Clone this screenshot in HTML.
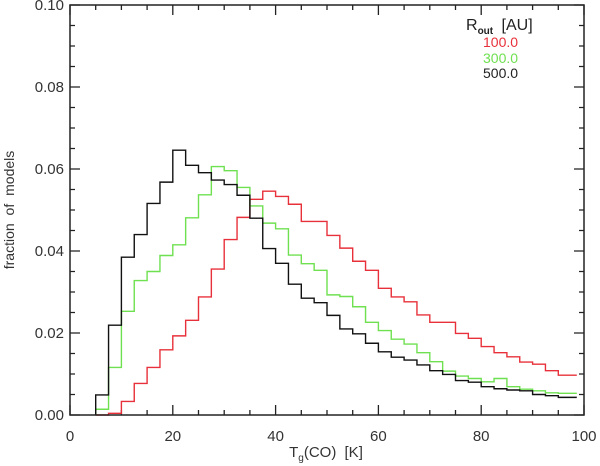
<!DOCTYPE html>
<html><head><meta charset="utf-8"><style>
body{margin:0;background:#fff}
svg{display:block;font-family:"Liberation Sans",sans-serif}
text{white-space:pre}
</style></head><body>
<svg id="chart" width="600" height="466" viewBox="0 0 600 466">
<g id="ticks"></g>
<g id="series"></g>
<rect x="70" y="5" width="514" height="410" fill="none" stroke="#222" stroke-width="1.5"/>
<g id="labels" font-size="15" fill="#333"></g>
<text x="14" y="210" font-size="14" fill="#333" text-anchor="middle" word-spacing="4" transform="rotate(-90 14 210)">fraction of models</text>
<text x="326" y="457" font-size="15" fill="#333" text-anchor="middle" word-spacing="4">T<tspan font-size="10" dy="4">g</tspan><tspan dy="-4">(CO) [K]</tspan></text>
<g>
<text x="466" y="30" font-size="16" fill="#222" word-spacing="4">R<tspan font-size="10" font-weight="bold" dy="4">out</tspan><tspan dy="-4"> [AU]</tspan></text>
<text x="483" y="47" font-size="14" fill="#e8303a">100.0</text>
<text x="483" y="63" font-size="14" fill="#6fe050">300.0</text>
<text x="483" y="78" font-size="14" fill="#222">500.0</text>
</g>
</svg>
<script>
const binStart = 5, binWidth = 2.5, lastEdge = 98.6;
const red = [0,0.0004,0.0033,0.0077,0.0116,0.0159,0.0193,0.0231,0.0288,0.0356,0.0428,0.0482,0.0526,0.0546,
 0.0533,0.0514,0.0472,0.0472,0.0438,0.0407,0.0375,0.0353,0.0309,0.0288,0.0276,0.0244,0.0226,0.0226,0.0199,0.0187,0.0167,0.0152,0.0142,0.0129,0.0124,0.0108,0.0097];
const green = [0.0014,0.0116,0.0253,0.0328,0.035,0.0389,0.0415,0.0481,0.0537,0.0606,0.0596,0.0555,0.051,0.0468,
 0.0454,0.039,0.0369,0.0353,0.0293,0.0289,0.0264,0.0226,0.0206,0.0185,0.0173,0.0152,0.013,0.0107,0.0095,0.0089,0.0081,0.0089,0.0069,0.0063,0.0059,0.0054,0.0053];
const black = [0.0049,0.0219,0.0385,0.044,0.0516,0.0568,0.0646,0.0609,0.0591,0.0573,0.0562,0.0536,0.048,0.0406,
 0.037,0.0319,0.0285,0.0274,0.0243,0.021,0.0198,0.0175,0.0154,0.0141,0.0134,0.0122,0.0108,0.0099,0.0084,0.008,0.0069,0.0064,0.0061,0.0059,0.005,0.0047,0.0043];
const xTickLabels = ["0","20","40","60","80","100"];
const yTickLabels = ["0.00","0.02","0.04","0.06","0.08","0.10"];

const X0=70,X1=584,Y0=415,Y1=5;
const xs=v=>X0+(v/100)*(X1-X0);
const ys=v=>Y0-(v/0.10)*(Y0-Y1);
const NS="http://www.w3.org/2000/svg";
function mk(tag,parent){const e=document.createElementNS(NS,tag);parent.appendChild(e);return e;}

const tg=document.getElementById('ticks');
let td="";
for(let v=0;v<=100;v+=5){const L=(v%20===0)?10:5;const x=xs(v);td+=`M${x} ${Y0}V${Y0-L}M${x} ${Y1}V${Y1+L}`;}
for(let i=0;i<=20;i++){const v=i*0.005;const L=(i%4===0)?10:5;const y=ys(v);td+=`M${X0} ${y}H${X0+L}M${X1} ${y}H${X1-L}`;}
const tp=mk('path',tg);tp.setAttribute('d',td);tp.setAttribute('stroke','#222');tp.setAttribute('stroke-width','1.3');



const lg=document.getElementById('labels');
xTickLabels.forEach((t,i)=>{const e=mk('text',lg);e.setAttribute('x',xs(i*20));e.setAttribute('y',441);e.setAttribute('text-anchor','middle');e.textContent=t;

});
yTickLabels.forEach((t,i)=>{const e=mk('text',lg);e.setAttribute('x',64);e.setAttribute('y',ys(i*0.02)+5);e.setAttribute('text-anchor','end');e.textContent=t;

});

const sg=document.getElementById('series');
function hist(vals,color,name){
  let d=`M${xs(binStart)} ${ys(0)}`;
  vals.forEach((v,i)=>{const a=binStart+i*binWidth;
    const bb=(i===vals.length-1)?lastEdge:a+binWidth;
    d+=`V${ys(v)}H${xs(bb)}`;});
  const p=mk('path',sg);p.setAttribute('d',d);p.setAttribute('fill','none');p.setAttribute('stroke',color);p.setAttribute('stroke-width','1.4');
  
  
}
hist(red,'#e8303a','series-100au');
hist(green,'#6fe050','series-300au');
hist(black,'#111','series-500au');
</script>
</body></html>
